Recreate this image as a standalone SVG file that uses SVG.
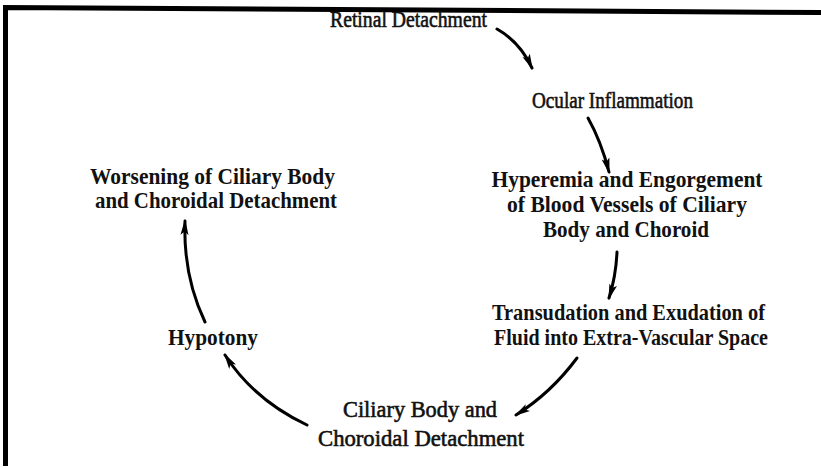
<svg xmlns="http://www.w3.org/2000/svg" width="821" height="468" viewBox="0 0 821 468">
<defs>
<marker id="ah" viewBox="0 0 16 9" refX="14" refY="4.5" markerWidth="16" markerHeight="9" markerUnits="userSpaceOnUse" orient="auto">
<path d="M0,0.5 L16,4.5 L0,8.5 L3.5,4.5 Z" fill="#000"/>
</marker>
<style>
.t{font-family:"Liberation Serif","Times New Roman",serif;font-weight:bold;font-size:23px;fill:#111;text-anchor:middle}
.n{font-weight:normal;stroke:#111;stroke-width:0.6}
.c{stroke:#000;stroke-width:3;fill:none;stroke-linecap:round;marker-end:url(#ah)}
.frame{stroke:#000;stroke-width:5;fill:none}
</style>
</defs>
<rect width="821" height="468" fill="#fff"/>
<path class="frame" d="M5.5,466 L5.5,7.5 L821,12.5"/>
<g id="n1"><text class="t n" x="408.5" y="27" textLength="157" lengthAdjust="spacingAndGlyphs">Retinal Detachment</text></g>
<g id="n2"><text class="t n" x="612.5" y="108" textLength="161" lengthAdjust="spacingAndGlyphs">Ocular Inflammation</text></g>
<g id="n3">
<text class="t" x="627" y="187" textLength="271" lengthAdjust="spacingAndGlyphs">Hyperemia and Engorgement</text>
<text class="t" x="627" y="212" textLength="240" lengthAdjust="spacingAndGlyphs">of Blood Vessels of Ciliary</text>
<text class="t" x="626" y="237" textLength="166" lengthAdjust="spacingAndGlyphs">Body and Choroid</text>
</g>
<g id="n4">
<text class="t" x="628.5" y="320" textLength="273" lengthAdjust="spacingAndGlyphs">Transudation and Exudation of</text>
<text class="t" x="631" y="345" textLength="274" lengthAdjust="spacingAndGlyphs">Fluid into Extra-Vascular Space</text>
</g>
<g id="n5">
<text class="t n" x="420" y="417" textLength="154" lengthAdjust="spacingAndGlyphs">Ciliary Body and</text>
<text class="t n" x="421" y="446" textLength="206" lengthAdjust="spacingAndGlyphs">Choroidal Detachment</text>
</g>
<g id="n6"><text class="t" x="213" y="345" textLength="90" lengthAdjust="spacingAndGlyphs">Hypotony</text></g>
<g id="n7">
<text class="t" x="212.5" y="184" textLength="245" lengthAdjust="spacingAndGlyphs">Worsening of Ciliary Body</text>
<text class="t" x="216" y="208" textLength="242" lengthAdjust="spacingAndGlyphs">and Choroidal Detachment</text>
</g>
<g id="connectors">
<path class="c" d="M497,29 Q520,42 532,68"/>
<path class="c" d="M588,118 Q601,141 609,172"/>
<path class="c" d="M617,252 Q616,276 609,298"/>
<path class="c" d="M577,358 Q551,393 516,415"/>
<path class="c" d="M307,425 Q254,400 225,355"/>
<path class="c" d="M205,322 Q183,276 185,221"/>
</g>
</svg>
